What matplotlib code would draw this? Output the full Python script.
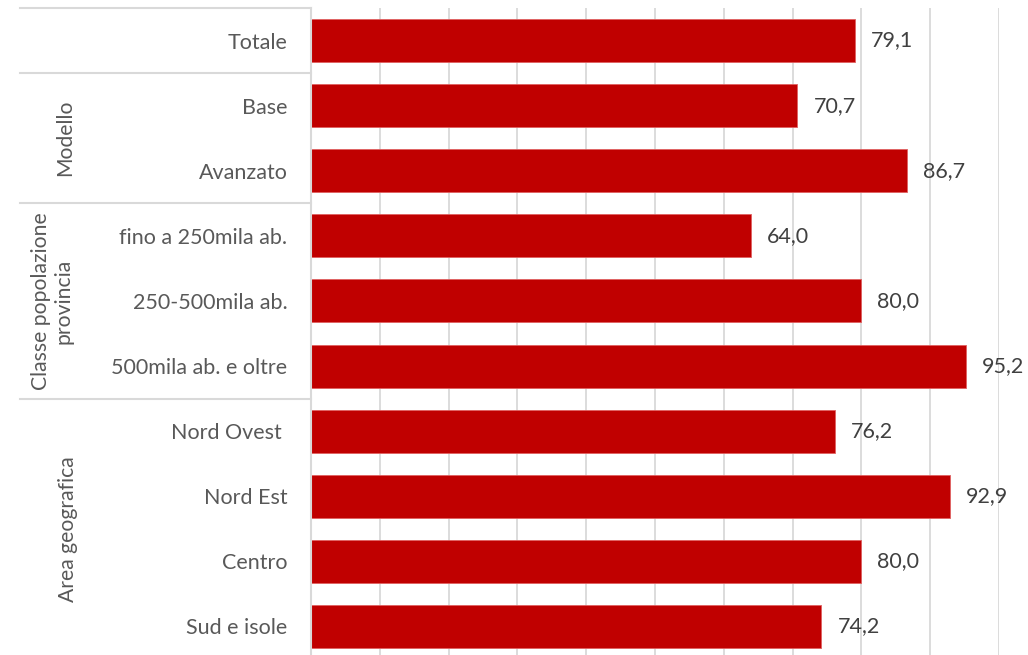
import matplotlib
matplotlib.use("Agg")
import matplotlib.pyplot as plt
from matplotlib.transforms import blended_transform_factory

categories = ["Totale", "Base", "Avanzato", "fino a 250mila ab.", "250-500mila ab.",
              "500mila ab. e oltre", "Nord Ovest ", "Nord Est", "Centro", "Sud e isole"]
values = [79.1, 70.7, 86.7, 64.0, 80.0, 95.2, 76.2, 92.9, 80.0, 74.2]
group_labels = ["Modello", "Classe popolazione\nprovincia", "Area geografica"]
group_spans = [(1, 2), (3, 5), (6, 9)]
separators_after = [0, 2, 5]

plt.rcParams['font.family'] = ['Lato', 'DejaVu Sans']

W, H = 1028, 655
fig = plt.figure(figsize=(W/100, H/100), dpi=100)
left, right, top, bottom = 311, 999, 8, 659
ax = fig.add_axes([left/W, 1-bottom/H, (right-left)/W, (bottom-top)/H])

y = list(range(len(categories)))
ax.barh(y, values, height=0.66, color="#C00000", edgecolor="#E06060", linewidth=0.6, zorder=3)
ax.set_xlim(0, 100)
ax.set_ylim(len(categories)-0.5, -0.5)
ax.set_xticks(range(0, 101, 10))
ax.xaxis.grid(True, color="#D9D9D9", linewidth=1.3, zorder=0)
ax.tick_params(axis='x', length=0, labelbottom=False)
ax.set_yticks(y)
ax.set_yticklabels(categories, fontsize=15.5, color="#595959")
ax.tick_params(axis='y', length=0, pad=17)
for s in ["top", "right", "bottom"]:
    ax.spines[s].set_visible(False)
ax.spines["left"].set_color("#D9D9D9")
ax.spines["left"].set_linewidth(1.5)
ax.spines["left"].set_zorder(4)

for yi, v in zip(y, values):
    ax.annotate(f"{v:.1f}".replace(".", ","), xy=(v, yi), xytext=(16, 0), textcoords="offset pixels",
                va="center", ha="left", fontsize=15.5, color="#404040")

tr = blended_transform_factory(ax.transAxes, ax.transData)
x0 = (20 - left) / (right - left)
for yy in [-0.5] + [s + 0.5 for s in separators_after]:
    ax.plot([x0, 0], [yy, yy], transform=tr, color="#D9D9D9", linewidth=1.5, clip_on=False)

gx = [(65 - left) / (right - left), (52 - left) / (right - left), (68 - left) / (right - left)]
for lab, (a, b), xx in zip(group_labels, group_spans, gx):
    ax.text(xx, (a + b) / 2, lab, transform=tr, rotation=90, ha="center", va="center",
            fontsize=15.2, color="#595959", linespacing=1.15, multialignment="center")

fig.savefig("out.png", dpi=100)
